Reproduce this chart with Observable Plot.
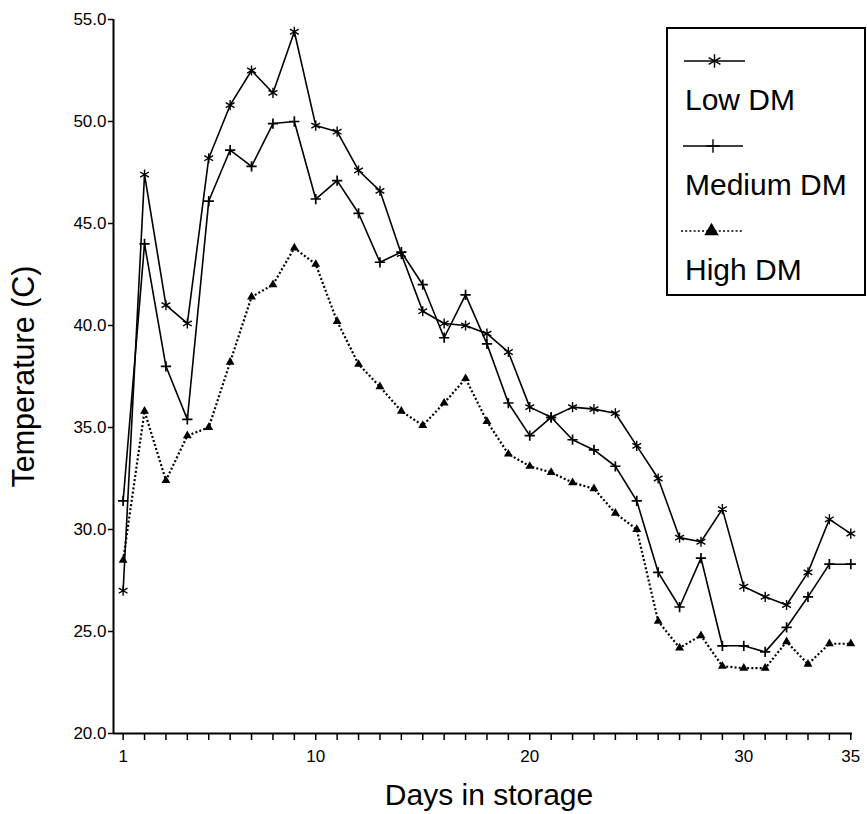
<!DOCTYPE html>
<html><head><meta charset="utf-8">
<script src="https://cdn.jsdelivr.net/npm/d3@7"></script>
<script src="https://cdn.jsdelivr.net/npm/@observablehq/plot@0.6"></script>
<style>
body{margin:0;background:#fff}
#wrap{position:relative;width:867px;height:814px;font-family:"Liberation Sans",Arial,sans-serif}
#legend{position:absolute;left:0;top:0;pointer-events:none}
</style>
</head><body><div id="wrap"></div>
<script>
const days = [1,2,3,4,5,6,7,8,9,10,11,12,13,14,15,16,17,18,19,20,21,22,23,24,25,26,27,28,29,30,31,32,33,34,35];
const lowDM = [27.0,47.4,41.0,40.1,48.2,50.8,52.5,51.4,54.4,49.8,49.5,47.6,46.6,43.5,40.7,40.1,40.0,39.6,38.7,36.0,35.5,36.0,35.9,35.7,34.1,32.5,29.6,29.4,31.0,27.2,26.7,26.3,27.9,30.5,29.8];
const mediumDM = [31.4,44.0,38.0,35.4,46.1,48.6,47.8,49.9,50.0,46.2,47.1,45.5,43.1,43.6,42.0,39.4,41.5,39.1,36.2,34.6,35.5,34.4,33.9,33.1,31.4,27.9,26.2,28.6,24.3,24.3,24.0,25.2,26.7,28.3,28.3];
const highDM = [28.5,35.8,32.4,34.6,35.0,38.2,41.4,42.0,43.8,43.0,40.2,38.1,37.0,35.8,35.1,36.2,37.4,35.3,33.7,33.1,32.8,32.3,32.0,30.8,30.0,25.5,24.2,24.8,23.3,23.2,23.2,24.5,23.4,24.4,24.4];
const seriesNames = ["Low DM","Medium DM","High DM"];
const yTicks = [20,25,30,35,40,45,50,55];
const xLabels = [1,10,20,30,35];
const xTitle = "Days in storage";
const yTitle = "Temperature (C)";

const rows = (vals) => days.map((d,i) => ({day:d, temp:vals[i]}));
const lowRows = rows(lowDM), medRows = rows(mediumDM), highRows = rows(highDM);
const xDomain = [0.55, 35.08], yDomain = [20, 55];

const chart = Plot.plot({
  width: 867, height: 814,
  marginLeft: 113, marginRight: 15, marginTop: 19, marginBottom: 81,
  style: {fontFamily: '"Liberation Sans", Arial, sans-serif', background: "white", color: "black"},
  x: {domain: xDomain},
  y: {domain: yDomain},
  marks: [
    Plot.axisY({ticks: yTicks, tickFormat: d => d.toFixed(1), tickSize: 5, tickPadding: 2, fontSize: 17, label: null, strokeWidth: 1.5}),
    Plot.axisX({ticks: days, tickFormat: d => xLabels.includes(d) ? String(d) : "", tickSize: 7, tickPadding: 9, fontSize: 17, label: null, strokeWidth: 1.5}),
    Plot.ruleY([yDomain[0]], {stroke: "black", strokeWidth: 2}),
    Plot.ruleX([xDomain[0]], {stroke: "black", strokeWidth: 2}),
    Plot.line(lowRows, {x: "day", y: "temp", stroke: "black", strokeWidth: 1.6}),
    Plot.dot(lowRows, {x: "day", y: "temp", symbol: "asterisk", r: 4.8, stroke: "black", fill: "none", strokeWidth: 1.4}),
    Plot.line(medRows, {x: "day", y: "temp", stroke: "black", strokeWidth: 1.6}),
    Plot.dot(medRows, {x: "day", y: "temp", symbol: "plus", r: 3.4, stroke: "black", fill: "none", strokeWidth: 1.7}),
    Plot.line(highRows, {x: "day", y: "temp", stroke: "black", strokeWidth: 2.2, strokeDasharray: "2,2.2", strokeLinecap: "butt"}),
    Plot.dot(highRows, {x: "day", y: "temp", symbol: "triangle", r: 3.3, fill: "black", stroke: "none"}),
    Plot.text([yTitle], {text: d => d, frameAnchor: "left", rotate: -90, dx: -89, textAnchor: "middle", fontSize: 30.5}),
    Plot.text([xTitle], {text: d => d, frameAnchor: "bottom", dy: 71, dx: 6, textAnchor: "middle", fontSize: 30})
  ]
});
const wrap = document.getElementById("wrap");
wrap.appendChild(chart);

// Legend overlay
const lg = d3.select(wrap).append("svg").attr("id","legend").attr("width",867).attr("height",814)
  .style("font-family",'"Liberation Sans", Arial, sans-serif');
lg.append("rect").attr("x",667).attr("y",28).attr("width",198).attr("height",267)
  .attr("fill","white").attr("stroke","black").attr("stroke-width",2);
const items = [
  {name: seriesNames[0], ly: 61, x1: 684, x2: 745, sym: d3.symbolAsterisk, size: 130, fill: "none", dash: null, ty: 110},
  {name: seriesNames[1], ly: 146, x1: 683, x2: 743, sym: d3.symbolPlus, size: 60, fill: "none", dash: null, ty: 195},
  {name: seriesNames[2], ly: 231, x1: 681, x2: 742, sym: d3.symbolTriangle, size: 90, fill: "black", dash: "2,2.2", ty: 280}
];
items.forEach(it => {
  lg.append("line").attr("x1",it.x1).attr("x2",it.x2).attr("y1",it.ly).attr("y2",it.ly)
    .attr("stroke","black").attr("stroke-width",1.6).attr("stroke-dasharray",it.dash);
  lg.append("path").attr("d", d3.symbol(it.sym, it.size)())
    .attr("transform",`translate(${(it.x1+it.x2)/2},${it.ly})`)
    .attr("fill",it.fill).attr("stroke", it.fill === "none" ? "black" : "none").attr("stroke-width",1.4);
  lg.append("text").attr("x",685).attr("y",it.ty).attr("font-size",30).attr("fill","black").text(it.name);
});
</script>
</body></html>
